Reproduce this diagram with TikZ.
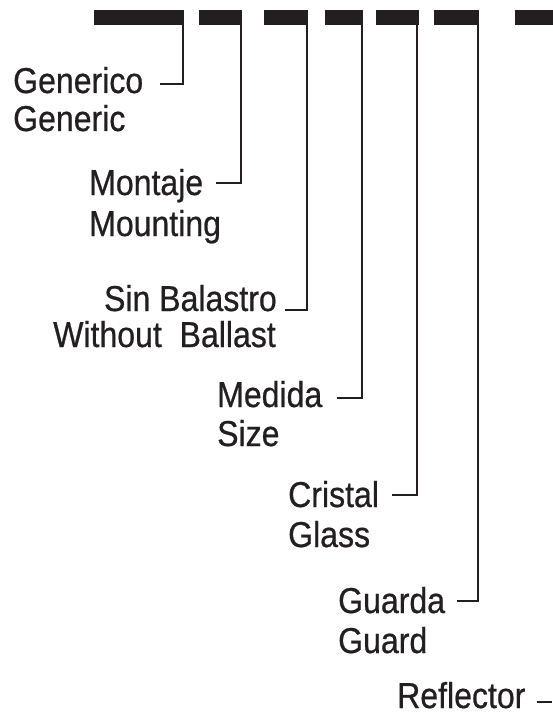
\documentclass[tikz,border=0pt]{standalone}
\usepackage{fontspec}
\setmainfont{Liberation Sans}[FakeStretch=0.89,FakeBold=0.6]
\definecolor{ink}{HTML}{231F20}
\begin{document}
\begin{tikzpicture}[x=1pt,y=-1pt,
  bar/.style={draw=none,fill=ink,rectangle,inner sep=0pt,minimum height=15pt,anchor=north west},
  lbl/.style={inner sep=0pt,text=ink,font=\fontsize{36}{40}\selectfont},
  conn/.style={draw=ink,line width=2pt}]
\useasboundingbox (0,0) rectangle (552,714);
% bars
\node[bar,minimum width=90pt] (b1) at (94,10) {};
\node[bar,minimum width=43pt] (b2) at (199,10) {};
\node[bar,minimum width=44pt] (b3) at (264,10) {};
\node[bar,minimum width=38pt] (b4) at (325,10) {};
\node[bar,minimum width=43pt] (b5) at (376,10) {};
\node[bar,minimum width=45pt] (b6) at (434,10) {};
\node[bar,minimum width=40pt] (b7) at (515,10) {};
% labels
\node[lbl,anchor=base west] (t1) at (13,93) {Generico};
\node[lbl,anchor=base west] (u1) at (13,131) {Generic};
\node[lbl,anchor=base west] (t2) at (89,195) {Montaje};
\node[lbl,anchor=base west] (u2) at (89,236) {Mounting};
\node[lbl,anchor=base east] (t3) at (277,311) {Sin Balastro};
\node[lbl,anchor=base east] (u3) at (276,347) {Without\ \ Ballast};
\node[lbl,anchor=base west] (t4) at (217,407) {Medida};
\node[lbl,anchor=base west] (u4) at (217,446) {Size};
\node[lbl,anchor=base west] (t5) at (288,507) {Cristal};
\node[lbl,anchor=base west] (u5) at (288,547) {Glass};
\node[lbl,anchor=base west] (t6) at (338,613) {Guarda};
\node[lbl,anchor=base west] (u6) at (338,653) {Guard};
\node[lbl,anchor=base west] (t7) at (397,708) {Reflector};
% connector ends
\coordinate (c1) at ([xshift=17pt]t1.base east |- 0,84);
\coordinate (c2) at ([xshift=13pt]t2.base east |- 0,183);
\coordinate (c3) at ([xshift=8pt]t3.base east |- 0,310);
\coordinate (c4) at ([xshift=15pt]t4.base east |- 0,398);
\coordinate (c5) at ([xshift=13pt]t5.base east |- 0,495);
\coordinate (c6) at ([xshift=12pt]t6.base east |- 0,601);
\coordinate (c7) at ([xshift=11pt]t7.base east |- 0,702);
\coordinate (e7) at (552,702);
% connectors
\draw[conn] ([xshift=-1pt]b1.south east) |- (c1);
\draw[conn] ([xshift=-1.5pt]b2.south east) |- (c2);
\draw[conn] ([xshift=-1pt]b3.south east) |- (c3);
\draw[conn] ([xshift=-1.5pt]b4.south east) |- (c4);
\draw[conn] ([xshift=-2pt]b5.south east) |- (c5);
\draw[conn] ([xshift=-1.5pt]b6.south east) |- (c6);
\draw[conn] (c7) -- (e7);
\end{tikzpicture}
\end{document}
